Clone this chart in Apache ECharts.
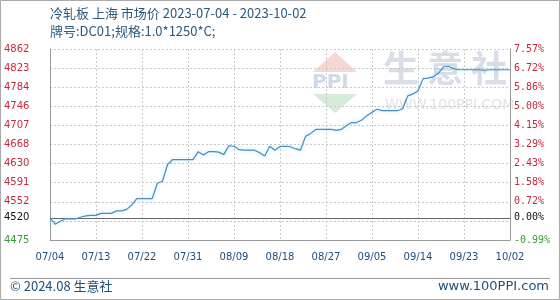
<!DOCTYPE html>
<html><head><meta charset="utf-8">
<script src="https://cdn.jsdelivr.net/npm/echarts@6/dist/echarts.min.js"></script>
<style>html,body{margin:0;padding:0;background:#fff}#c{width:560px;height:300px}</style>
</head><body><div id="c"></div>
<script>
const dates = ['07/04','07/05','07/06','07/07','07/08','07/09','07/10','07/11','07/12','07/13','07/14','07/15','07/16','07/17','07/18','07/19','07/20','07/21','07/22','07/23','07/24','07/25','07/26','07/27','07/28','07/29','07/30','07/31',
'08/01','08/02','08/03','08/04','08/05','08/06','08/07','08/08','08/09','08/10','08/11','08/12','08/13','08/14','08/15','08/16','08/17','08/18','08/19','08/20','08/21','08/22','08/23','08/24','08/25','08/26','08/27','08/28','08/29','08/30','08/31',
'09/01','09/02','09/03','09/04','09/05','09/06','09/07','09/08','09/09','09/10','09/11','09/12','09/13','09/14','09/15','09/16','09/17','09/18','09/19','09/20','09/21','09/22','09/23','09/24','09/25','09/26','09/27','09/28','09/29','09/30',
'10/01','10/02'];
const prices = [4520,4507,4513,4518,4518,4518,4521,4524,4525,4525,4529,4529,4529,4534,4534,4537,4546,4559,4559,4559,
4559,4590,4594,4628,4638,4638,4638,4638,4638,4654,4647,4654,4654,4653,4648,4666,4665,4658,4657,4657,
4657,4652,4645,4665,4657,4664,4665,4664,4660,4657,4685,4691,4699,4699,4699,4699,4697,4699,4707,4713,
4713,4718,4727,4734,4740,4737,4737,4737,4737,4741,4767,4771,4777,4802,4803,4806,4813,4826,4827,4822,
4820,4820,4820,4820,4820,4819,4820,4820,4820,4820,4820];
const baseValue = 4520;
const yMin = 4475, yMax = 4862;
const gridTicks = [4475,4513.7,4552.4,4591.1,4629.8,4668.5,4707.2,4745.9,4784.6,4823.3,4862];
const labelTicks = [4475,4520,4552.4,4591.1,4629.8,4668.5,4707.2,4745.9,4784.6,4823.3,4862];
const leftLabels = ['4475','4520','4552','4591','4630','4668','4707','4746','4784','4823','4862'];
const rightLabels = ['-0.99%','0.00%','0.72%','1.58%','2.43%','3.29%','4.15%','5.00%','5.86%','6.72%','7.57%'];

const RED = '#c8283c', GREEN = '#3a9a3a', BLACK = '#111';
function colorFor(i){ return i===0 ? GREEN : (i===1 ? BLACK : RED); }
function idx(v){ let best=0,d=1e9; labelTicks.forEach((t,i)=>{ if(Math.abs(t-v)<d){d=Math.abs(t-v);best=i;} }); return best; }

const chart = echarts.init(document.getElementById('c'), null, {renderer:'canvas'});
const option = {
  animation:false,
  backgroundColor:'#fff',
  grid:{left:50,right:50,top:49,bottom:60,show:false},
  xAxis:{type:'category',data:dates,boundaryGap:false,
    axisLine:{show:true,lineStyle:{color:'#999',width:1}},
    axisTick:{show:false},
    axisLabel:{interval:8,margin:12,color:'#1f4e79',fontFamily:'DejaVu Sans',fontSize:10,
      showMinLabel:true,showMaxLabel:true},
    splitLine:{show:true,interval:8,lineStyle:{color:'#c8c8c8',type:[2,2],width:1}}
  },
  yAxis:[
    {type:'value',min:yMin,max:yMax,position:'left',
     axisLine:{show:true,lineStyle:{color:'#999'}},
     axisTick:{show:false,customValues:gridTicks},
     splitLine:{show:true,lineStyle:{color:'#c8c8c8',type:[2,2],width:1}},
     axisLabel:{customValues:labelTicks,align:'left',margin:46,fontFamily:'DejaVu Sans',fontSize:10,
       formatter:(v)=>{const i=idx(v);return '{c'+i+'|'+leftLabels[i]+'}';},
       rich:Object.fromEntries(leftLabels.map((l,i)=>['c'+i,{color:colorFor(i),fontFamily:'DejaVu Sans',fontSize:10}]))
     }},
    {type:'value',min:yMin,max:yMax,position:'right',
     axisLine:{show:true,lineStyle:{color:'#999'}},
     axisTick:{show:false,customValues:gridTicks},
     splitLine:{show:false},
     axisLabel:{customValues:labelTicks,align:'left',margin:4,fontFamily:'DejaVu Sans Mono',fontSize:10,
       formatter:(v)=>{const i=idx(v);return '{c'+i+'|'+rightLabels[i]+'}';},
       rich:Object.fromEntries(rightLabels.map((l,i)=>['c'+i,{color:colorFor(i),fontFamily:'DejaVu Sans Mono',fontSize:10}]))
     }}
  ],
  series:[{
    type:'line',data:prices,yAxisIndex:0,showSymbol:false,symbol:'none',
    lineStyle:{color:'#4a8db5',width:1.2,shadowColor:'rgba(120,210,255,0.6)',shadowBlur:4},
    z:5,
    markLine:{silent:true,symbol:'none',label:{show:false},
      lineStyle:{color:'#666',type:'solid',width:1},
      data:[{yAxis:baseValue}]}
  }],
  graphic:[
    {type:'rect',shape:{x:0.5,y:0.5,width:559,height:299},style:{fill:'none',stroke:'#aaa',lineWidth:1},z:-10},
    {type:'text',left:50,top:7,style:{text:'冷轧板 上海 市场价 2023-07-04 - 2023-10-02',fill:'#2a5a7a',font:'13px "Noto Sans CJK SC"'}},
    {type:'text',left:50,top:25,style:{text:'牌号:DC01;规格:1.0*1250*C;',fill:'#2a5a7a',font:'13px "Noto Sans CJK SC"'}},
    // watermark
    {type:'polygon',shape:{points:[[313,72],[357,72],[335,52]]},style:{fill:'rgba(235,140,130,0.35)'},z:-5},
    {type:'text',x:312,y:73,style:{text:'PPI',fill:'rgba(150,170,200,0.45)',font:'bold 20px "DejaVu Sans"'},z:-5},
    {type:'polygon',shape:{points:[[313,94],[357,94],[335,113]]},style:{fill:'rgba(140,200,140,0.35)'},z:-5},
    {type:'text',x:383,y:50,style:{text:'生 意 社',fill:'rgba(170,180,205,0.45)',font:'bold 36px "Noto Sans CJK SC"'},z:-5},
    {type:'text',x:385,y:98,style:{text:'WWW.100PPI.COM',fill:'rgba(180,180,190,0.4)',font:'14px "DejaVu Sans"'},z:-5},
    // footer
    {type:'line',shape:{x1:10,y1:278.5,x2:550,y2:278.5},style:{stroke:'#999',lineWidth:1}},
    {type:'text',left:10,top:280,style:{text:'© 2024.08 生意社',fill:'#1f4e79',font:'13px "Noto Sans CJK SC"'}},
    {type:'text',right:11,top:280,style:{text:'www.100PPI.com',fill:'#1f4e79',font:'13px "DejaVu Sans"'}}
  ]
};
chart.setOption(option);
</script></body></html>
